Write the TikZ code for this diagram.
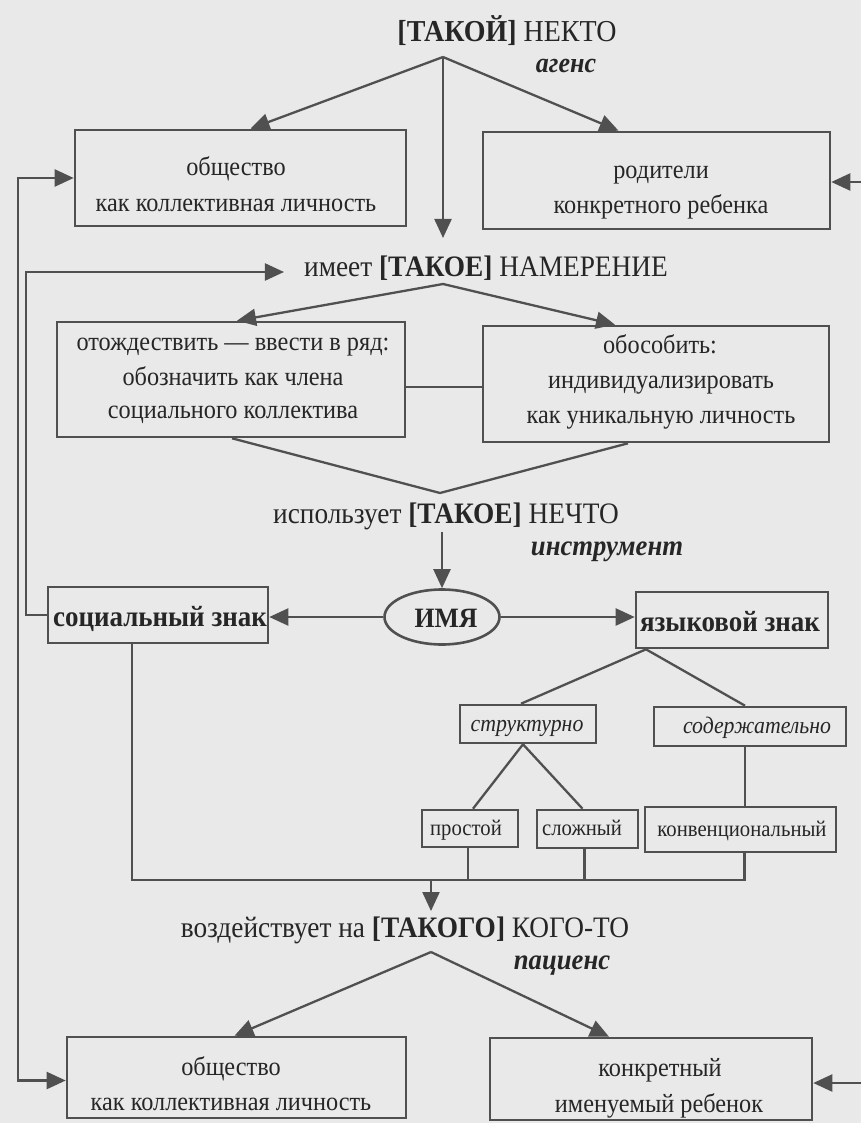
\documentclass[tikz,border=0pt]{standalone}
\usepackage{fontspec}
\setmainfont[FakeStretch=0.92]{Liberation Serif}
\usetikzlibrary{arrows.meta,shapes.geometric,calc}
\definecolor{bg}{RGB}{233,233,233}
\definecolor{ink}{RGB}{38,38,38}
\definecolor{ln}{RGB}{80,80,80}
\tikzset{
  box/.style={draw=ln,line width=2.6pt,rectangle,inner sep=0pt},
  txt/.style={inner sep=0pt,anchor=base,text=ink,font=\fontsize{26.4}{30}\selectfont},
  btxt/.style={txt,font=\fontsize{29.3}{33}\selectfont\bfseries},
  stxt/.style={txt,font=\fontsize{22.5}{26}\selectfont},
  itxt/.style={txt,font=\fontsize{23.7}{27}\selectfont\itshape},
  lbl/.style={inner sep=0pt,text=ink,font=\fontsize{29.7}{34}\selectfont},
  ital/.style={inner sep=0pt,text=ink,font=\fontsize{29}{33}\selectfont\bfseries\itshape},
  conn/.style={draw=ln,line width=2.3pt},
  arr/.style={conn,-{Triangle[length=19pt,width=17pt]}},
  darr/.style={conn,{Triangle[length=19pt,width=17pt]}-{Triangle[length=19pt,width=17pt]}},
}
\begin{document}
\begin{tikzpicture}[x=1pt,y=-1pt]
\fill[bg] (0,0) rectangle (861,1123);
\useasboundingbox (0,0) rectangle (861,1123);

% top
\node[lbl,font=\fontsize{30.4}{34}\selectfont] (T1) at (507,31) {\textbf{[ТАКОЙ]} НЕКТО};
\node[ital,font=\fontsize{28.3}{33}\selectfont\bfseries\itshape] (ag) at (566,66) {агенс};
\coordinate (j1) at (443,57);
\node[box,minimum width=331pt,minimum height=96pt] (A1) at (240.5,178) {};
\node[txt] (A1a) at (236,176) {общество};
\node[txt] (A1b) at (236,212) {как коллективная личность};
\node[box,minimum width=347pt,minimum height=97pt] (A2) at (656.5,180.5) {};
\node[txt] (A2a) at (661,179) {родители};
\node[txt] (A2b) at (661,214) {конкретного ребенка};
\draw[arr] (j1) -- ([xshift=10pt]A1.north);
\draw[arr] (j1) -- ([xshift=-38pt]A2.north);

% intention
\node[lbl] (T2) at (486,268) {имеет \textbf{[ТАКОЕ]} НАМЕРЕНИЕ};
\coordinate (j1b) at (443,238);
\draw[arr] (j1) -- (j1b);
\coordinate (j2) at (443,284);
\node[box,minimum width=348pt,minimum height=115pt] (B1) at (231,379.5) {};
\node[txt] (B1a) at (233,350) {отождествить — ввести в ряд:};
\node[txt] (B1b) at (233,385) {обозначить как члена};
\node[txt] (B1c) at (233,418) {социального коллектива};
\node[box,minimum width=346pt,minimum height=116pt] (B2) at (656,384) {};
\node[txt] (B2a) at (660,353) {обособить:};
\node[txt] (B2b) at (661,388) {индивидуализировать};
\node[txt] (B2c) at (661,423) {как уникальную личность};
\draw[arr] (j2) -- ([xshift=6pt]B1.north);
\draw[arr] (j2) -- ([xshift=-41pt]B2.north);
\draw[conn] (B1.east |- 0,387) -- (B2.west |- 0,387);
\coordinate (j3) at (440,493);
\draw[conn] ([xshift=1pt]B1.south) -- (j3) -- ([xshift=-28pt]B2.south);

% instrument
\node[lbl] (T3) at (446,516) {использует \textbf{[ТАКОЕ]} НЕЧТО};
\node[ital] (ins) at (607,552) {инструмент};
\coordinate (j3b) at (442,532);
\node[ellipse,draw=ln,line width=2.6pt,inner sep=0pt,minimum width=115pt,minimum height=55pt] (N) at (442,617) {};
\node[btxt,font=\fontsize{28}{32}\selectfont\bfseries] (Nt) at (446,627) {ИМЯ};
\draw[arr] (j3b) -- (N.north);
\node[box,minimum width=220pt,minimum height=56pt] (S) at (158,615) {};
\node[btxt] (St) at (160,626) {социальный знак};
\node[box,minimum width=192pt,minimum height=56pt] (L) at (732,620) {};
\node[btxt] (Lt) at (730,631) {языковой знак};
\draw[arr] (N.west) -- (S.east |- N.west);
\draw[arr] (N.east) -- (L.west |- N.east);

% sign classification
\node[box,minimum width=136pt,minimum height=38pt] (str) at (528,724) {};
\node[itxt] (strt) at (527,731) {структурно};
\node[box,minimum width=192pt,minimum height=39pt] (sod) at (750,726.5) {};
\node[itxt] (sodt) at (757,733) {содержательно};
\draw[conn] ([xshift=-7pt]str.north) -- ([xshift=-86pt]L.south) -- ([xshift=-5pt]sod.north);
\node[box,minimum width=96pt,minimum height=37pt] (pr) at (470,828.5) {};
\node[stxt] (prt) at (466,835) {простой};
\node[box,minimum width=101pt,minimum height=38pt] (sl) at (587.5,829) {};
\node[stxt] (slt) at (582,835) {сложный};
\node[box,minimum width=191pt,minimum height=45pt] (kv) at (740.5,829.5) {};
\node[stxt] (kvt) at (742,836) {конвенциональный};
\draw[conn] ([xshift=3pt]pr.north) -- ([xshift=-5pt]str.south) -- ([xshift=-5pt]sl.north);
\draw[conn] ([xshift=-5pt]sod.south) -- ([xshift=-5pt]sod.south |- kv.north);

% bracket
\coordinate (br) at (431,880);
\draw[conn] ([xshift=-26pt]S.south) |- (br) -| ([xshift=4pt]kv.south);
\draw[conn] ([xshift=-2pt]pr.south) -- ([xshift=-2pt]pr.south |- br);
\draw[conn] ([xshift=-3pt]sl.south) -- ([xshift=-3pt]sl.south |- br);
\coordinate (brb) at (431,911);
\draw[arr] (br) -- (brb);

% patient
\node[lbl] (T4) at (405,930) {воздействует на \textbf{[ТАКОГО]} КОГО-ТО};
\node[ital] (pac) at (562,966) {пациенс};
\coordinate (j4) at (431,952);
\node[box,minimum width=339pt,minimum height=81pt] (C1) at (236.5,1077.5) {};
\node[txt] (C1a) at (231,1075) {общество};
\node[txt] (C1b) at (231,1110) {как коллективная личность};
\node[box,minimum width=322pt,minimum height=82pt] (C2) at (651,1079) {};
\node[txt] (C2a) at (660,1076) {конкретный};
\node[txt] (C2b) at (659,1112) {именуемый ребенок};
\draw[arr] (j4) -- ([xshift=-2pt]C1.north);
\draw[arr] (j4) -- ([xshift=-42pt]C2.north);

% feedback lines
\draw[darr] (A1.west) -- ++(-56,0) |- ([yshift=-3pt]C1.west);
\draw[arr] (S.west) -- ++(-21,0) |- ([xshift=-20pt,yshift=-4pt]T2.west);
\coordinate (rA) at (861,182);
\coordinate (rC) at (861,1083);
\draw[arr] (rA) -- (A2.east |- rA);
\draw[arr] (rC) -- (C2.east |- rC);
\end{tikzpicture}
\end{document}
